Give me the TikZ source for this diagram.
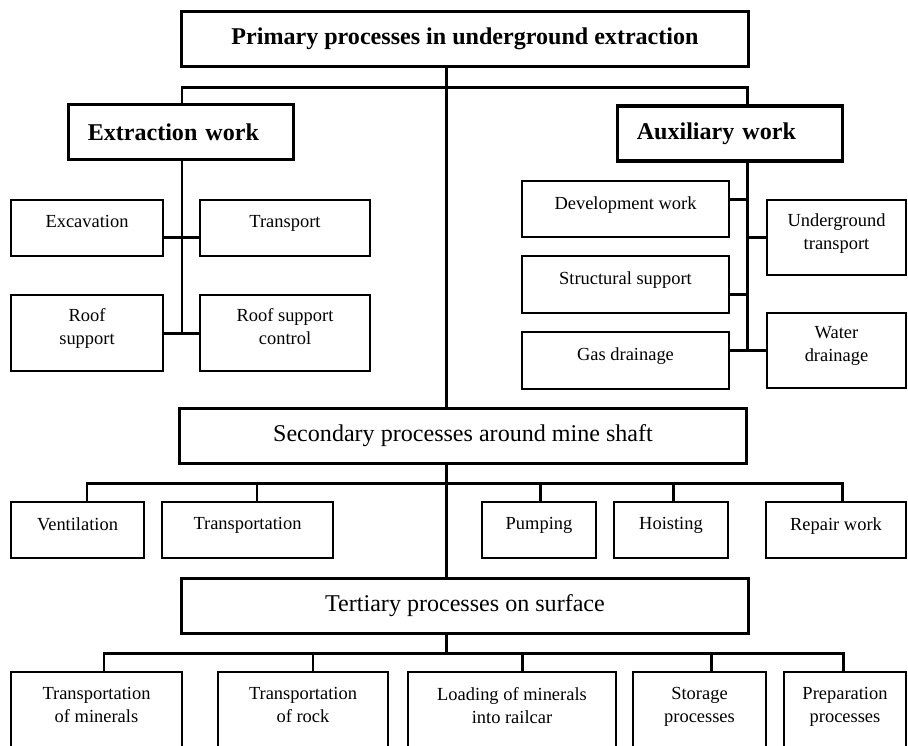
\documentclass[tikz,border=0pt]{standalone}
\usepackage{fontspec}
\setmainfont{Liberation Serif}
\begin{document}
\begin{tikzpicture}[x=0.02cm,y=-0.02cm]

    \tikzset{head/.style = {draw,line width=1.9pt,minimum width=11.34cm,minimum height=1.1cm,font=\fontsize{13.7}{16}\selectfont}}
    \tikzset{work/.style = {draw,line width=1.9pt,minimum height=1.1cm,text width=3.73cm,inner xsep=0.386cm,align=left,font=\bfseries\fontsize{13.7}{16}\selectfont}}
    \tikzset{task/.style = {draw,line width=0.7pt,align=center,text depth=7pt,font=\fontsize{10.5}{13.1}\selectfont}}
    \tikzset{conn/.style = {line width=1.7pt}}

    \useasboundingbox (0,0) rectangle (908,745);
    \clip (0,0) rectangle (908,745);

    % level 1
    \node[head,font=\bfseries\fontsize{13.7}{16}\selectfont] (primary) at (465,39) {Primary processes in underground extraction};
    \node[work] (extract) at (181,132) {Extraction work};
    \node[work] (aux) at (730,133.5) {Auxiliary work};

    \node[task,minimum width=3.04cm,minimum height=1.12cm] (excav) at (87,228) {Excavation};
    \node[task,minimum width=3.4cm,minimum height=1.12cm] (transp) at (285,228) {Transport};
    \node[task,minimum width=3.04cm,minimum height=1.52cm] (roofsup) at (87,333) {Roof\\support};
    \node[task,minimum width=3.4cm,minimum height=1.52cm] (roofctl) at (285,333) {Roof support\\control};

    \node[task,minimum width=4.14cm,minimum height=1.12cm] (devwork) at (625.5,209) {Development work};
    \node[task,minimum width=4.14cm,minimum height=1.14cm] (structsup) at (625.5,284.5) {Structural support};
    \node[task,minimum width=4.14cm,minimum height=1.14cm] (gasdrain) at (625.5,360.5) {Gas drainage};
    \node[task,minimum width=2.78cm,minimum height=1.5cm] (ugtrans) at (836.5,237.5) {Underground\\transport};
    \node[task,minimum width=2.78cm,minimum height=1.5cm] (waterdrain) at (836.5,350.5) {Water\\drainage};

    % level 2
    \node[head] (second) at (463,436) {Secondary processes around mine shaft};
    \node[task,minimum width=2.66cm,minimum height=1.12cm] (vent) at (77.5,530) {Ventilation};
    \node[task,minimum width=3.42cm,minimum height=1.12cm] (transpn) at (247.5,530) {Transportation};
    \node[task,minimum width=2.28cm,minimum height=1.12cm] (pump) at (539,530) {Pumping};
    \node[task,minimum width=2.28cm,minimum height=1.12cm] (hoist) at (671,530) {Hoisting};
    \node[task,minimum width=2.8cm,minimum height=1.12cm] (repair) at (836,530) {Repair work};

    % level 3
    \node[head] (tertiary) at (465,606) {Tertiary processes on surface};
    \node[task,minimum width=3.42cm,minimum height=1.58cm] (trmin) at (96.5,711.5) {Transportation\\of minerals};
    \node[task,minimum width=3.4cm,minimum height=1.58cm] (trrock) at (303,711.5) {Transportation\\of rock};
    \node[task,minimum width=4.16cm,minimum height=1.58cm] (loading) at (512,711.5) {Loading of minerals\\into railcar};
    \node[task,minimum width=2.66cm,minimum height=1.58cm] (storage) at (699.5,711.5) {Storage\\processes};
    \node[task,minimum width=2.44cm,minimum height=1.58cm] (prep) at (845,711.5) {Preparation\\processes};

    % branch points
    \coordinate (lb) at (182,87);
    \coordinate (rb) at (747,87);
    \coordinate (e1) at (182,237);
    \coordinate (e2) at (182,333);
    \coordinate (a1) at (747,199);
    \coordinate (a2) at (747,237);
    \coordinate (a3) at (747,294);
    \coordinate (a4) at (747,350);
    \coordinate (trunk) at (446,483);
    \coordinate (t2) at (446,653);
    \coordinate (s1) at (87,483);
    \coordinate (s2) at (257,483);
    \coordinate (s3) at (540,483);
    \coordinate (s4) at (673,483);
    \coordinate (s5) at (842,483);
    \coordinate (b1) at (104,653);
    \coordinate (b2) at (313,653);
    \coordinate (b3) at (522,653);
    \coordinate (b4) at (711,653);
    \coordinate (b5) at (843,653);

    % connectors
    \draw[conn] (trunk |- primary.south) -- (trunk |- second.north);
    \draw[conn] (lb |- extract.north) -- (lb) -- (rb) -- (rb |- aux.north);
    \draw[conn] (e1 |- extract.south) -- (e2);
    \draw[conn] (excav.east |- e1) -- (transp.west |- e1);
    \draw[conn] (roofsup.east |- e2) -- (roofctl.west |- e2);
    \draw[conn] (a1 |- aux.south) -- (a4);
    \draw[conn] (devwork.east |- a1) -- (a1);
    \draw[conn] (a2) -- (ugtrans.west |- a2);
    \draw[conn] (structsup.east |- a3) -- (a3);
    \draw[conn] (gasdrain.east |- a4) -- (waterdrain.west |- a4);

    \draw[conn] (trunk |- second.south) -- (trunk |- tertiary.north);
    \draw[conn] (s1 |- vent.north) -- (s1) -- (s5) -- (s5 |- repair.north);
    \foreach \c/\nd in {s2/transpn,s3/pump,s4/hoist}
        \draw[conn] (\c) -- (\c |- \nd.north);

    \draw[conn] (trunk |- tertiary.south) -- (t2);
    \draw[conn] (b1 |- trmin.north) -- (b1) -- (b5) -- (b5 |- prep.north);
    \foreach \c/\nd in {b2/trrock,b3/loading,b4/storage}
        \draw[conn] (\c) -- (\c |- \nd.north);

\end{tikzpicture}
\end{document}
